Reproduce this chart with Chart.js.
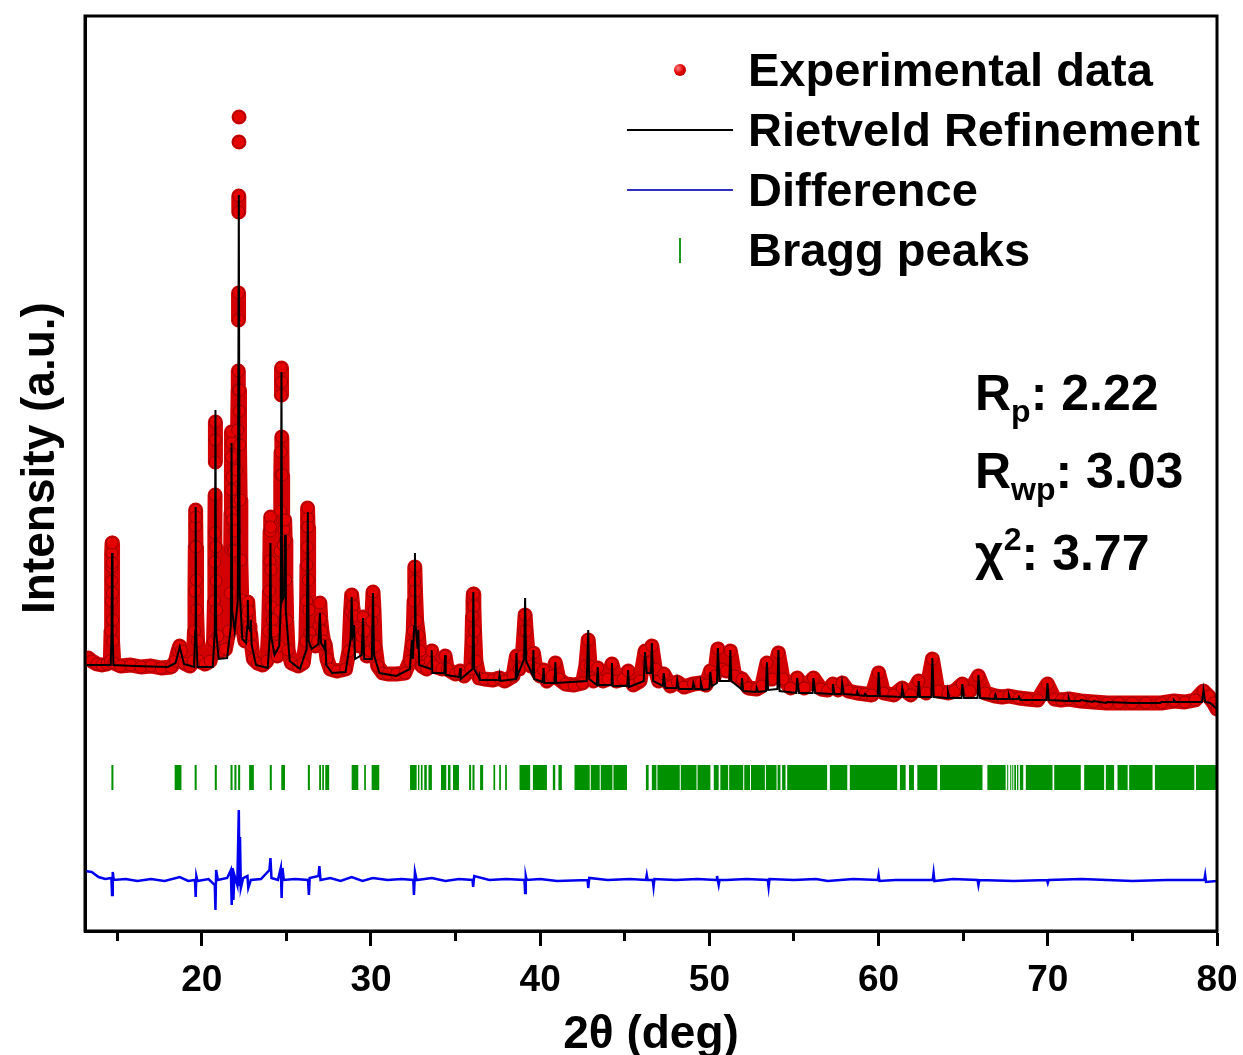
<!DOCTYPE html>
<html>
<head>
<meta charset="utf-8">
<script src="https://cdn.jsdelivr.net/npm/chart.js@4.4.1/dist/chart.umd.min.js"></script>
<style>
  html, body { margin: 0; padding: 0; background: #fff; overflow: hidden; }
  #wrap { position: relative; width: 1243px; height: 1055px; }
  #chart { position: absolute; left: 0; top: 0; }
  .txt { position: absolute; font-family: "Liberation Sans", Arial, sans-serif; font-weight: bold; color: #000; white-space: nowrap; }
  .leg { left: 748px; font-size: 47px; line-height: 60px; height: 60px; }
  .ann { left: 975px; font-size: 50px; line-height: 50px; }
  .ann sub { font-size: 32px; line-height: 0; vertical-align: -12px; }
  .ann sup { font-size: 32px; line-height: 0; vertical-align: 20px; }
  #ytitle { left: -162px; top: 430px; width: 400px; height: 56px; line-height: 56px; font-size: 46px; text-align: center; transform: rotate(-90deg); }
  .sym { position: absolute; }
</style>
</head>
<body>
<div id="wrap">
  <canvas id="chart" width="1243" height="1055"></canvas>

  <div class="txt" id="ytitle">Intensity (a.u.)</div>

  <!-- legend -->
  <div class="sym" style="left:674px; top:64px; width:12px; height:12px; border-radius:50%; background: radial-gradient(circle at 35% 35%, #ff8080 0%, #e00000 45%, #a00000 100%);"></div>
  <div class="sym" style="left:627px; top:129px; width:106px; height:2px; background:#000;"></div>
  <div class="sym" style="left:627px; top:189px; width:106px; height:2px; background:#3030c0;"></div>
  <div class="sym" style="left:679px; top:238px; width:2px; height:25px; background:#1a9a1a;"></div>
  <div class="txt leg" style="top:40px;">Experimental data</div>
  <div class="txt leg" style="top:100px;">Rietveld Refinement</div>
  <div class="txt leg" style="top:160px;">Difference</div>
  <div class="txt leg" style="top:220px;">Bragg peaks</div>

  <!-- fit statistics -->
  <div class="txt ann" style="top:368px;">R<sub>p</sub>: 2.22</div>
  <div class="txt ann" style="top:446px;">R<sub>wp</sub>: 3.03</div>
  <div class="txt ann" style="top:528px;">&chi;<sup>2</sup>: 3.77</div>
</div>

<script>
// observed pattern [2theta, intensity]; null = break between separated dots
const observed = [
  [13.1,272],[13.3,273],[13.5,270],[13.8,267],[14.1,266],[14.4,267],[14.6,270],[14.64,300],[14.66,330],[14.67,350],[14.68,364],[14.69,378],[14.70,388],[14.71,368],[14.72,338],[14.73,311],[14.75,290],[14.8,268],
  [15.2,265],[15.8,266],[16.4,264],[17.0,265],[17.6,263],[18.2,264],[18.45,270],[18.6,280],[18.7,285],[18.8,280],[18.95,268],
  [19.3,265],[19.5,270],[19.57,300],[19.6,340],[19.62,385],[19.63,405],[19.64,421],[19.65,414],[19.66,384],[19.68,351],[19.7,321],[19.75,290],[19.85,270],
  [20.2,267],[20.5,270],[20.7,290],[20.75,330],[20.77,369],[20.78,398],[20.79,436],[20.795,null],[20.8,469],[20.805,491],[20.81,509],[20.815,null],
  [20.83,384],[20.85,350],[20.88,321],[20.95,295],[21.1,280],
  [21.4,282],[21.6,300],[21.68,338],[21.71,381],[21.73,418],[21.74,441],[21.75,474],[21.76,499],[21.77,488],[21.79,454],[21.82,411],[21.86,381],[21.9,380],[21.95,400],
  [22.02,430],[22.08,461],[22.12,501],[22.15,541],[22.16,560],[22.165,null],[22.17,611],[22.175,638],[22.18,null],[22.185,719],[22.19,735],[22.195,null],
  [22.2,789],[22.203,null],[22.205,814],[22.21,null],[22.215,541],[22.22,520],[22.24,486],[22.27,431],[22.31,371],[22.36,331],[22.45,300],[22.55,290],
  [22.62,300],[22.67,315],[22.7,325],[22.72,329],[22.75,320],[22.8,305],[22.85,300],[22.9,296],[22.95,285],[23.05,272],[23.3,268],[23.6,266],[23.85,270],
  [23.95,300],[24.0,340],[24.02,370],[24.04,400],[24.06,414],[24.07,404],[24.09,361],[24.12,324],[24.17,311],[24.25,300],[24.3,285],[24.45,275],[24.55,285],
  [24.6,320],[24.64,380],[24.66,420],[24.68,456],[24.69,479],[24.695,null],[24.7,536],[24.71,563],[24.72,549],[24.725,null],[24.73,494],[24.75,456],[24.78,411],[24.82,386],[24.86,401],[24.9,411],[24.93,391],[24.97,351],[25.02,311],[25.1,281],[25.3,268],
  [25.7,265],[26.0,268],[26.15,290],[26.2,330],[26.22,366],[26.24,384],[26.25,404],[26.26,413],[26.27,423],[26.28,404],[26.3,351],[26.33,321],[26.38,298],[26.5,290],
  [26.7,285],[26.85,290],[26.92,305],[26.98,328],[27.03,312],[27.1,300],[27.2,290],[27.3,286],[27.4,272],[27.6,262],[28.0,260],[28.5,262],
  [28.7,280],[28.8,320],[28.86,336],[28.92,325],[29.0,315],[29.1,290],[29.3,285],[29.45,295],[29.53,314],[29.6,300],[29.75,275],[29.95,280],
  [30.05,310],[30.12,339],[30.18,320],[30.25,285],[30.4,265],[30.7,258],[31.0,257],[31.5,257],[32.0,258],
  [32.3,270],[32.42,286],[32.5,300],[32.55,330],[32.58,350],[32.6,364],[32.63,340],[32.7,310],[32.8,296],[32.88,280],[33.0,265],[33.3,262],
  [33.5,270],[33.59,280],[33.7,265],[34.2,262],[34.38,275],[34.5,262],[35.0,257],[35.27,260],[35.5,255],
  [35.9,262],[35.97,290],[36.0,315],[36.03,330],[36.05,337],[36.08,325],[36.12,300],[36.2,270],[36.4,253],[36.7,252],[37.2,251],[37.6,253],[37.9,250],
  [38.4,255],[38.6,275],[38.75,262],[38.95,275],[39.05,300],[39.11,316],[39.17,300],[39.3,275],[39.45,265],[39.6,278],[39.75,262],[40.0,255],[40.2,261],[40.4,250],[40.7,255],[40.9,268],[41.1,252],[41.5,247],[42.0,246],[42.5,248],
  [42.7,265],[42.84,291],[42.95,265],[43.15,250],[43.4,263],[43.7,250],[44.0,252],[44.24,267],[44.5,250],[44.9,252],[45.2,260],[45.5,246],[45.9,250],
  [46.2,280],[46.4,268],[46.6,285],[46.8,262],[47.0,250],[47.3,257],[47.7,245],[48.1,249],[48.5,244],[49.05,247],[49.5,248],[49.8,246],
  [50.06,260],[50.3,255],[50.5,282],[50.75,262],[51.0,260],[51.24,280],[51.5,255],[51.93,252],[52.3,243],[52.8,242],[53.1,245],[53.4,268],[53.7,252],[54.08,278],[54.35,252],
  [54.8,243],[55.19,253],[55.6,243],[56.15,253],[56.6,242],[57.0,241],[57.3,247],[57.6,241],[57.85,248],[58.2,240],[58.74,238],[59.2,237],[59.6,236],
  [60.0,258],[60.3,238],[60.9,236],[61.4,243],[61.9,236],[62.37,250],[62.8,238],[63.18,272],[63.5,240],[64.1,238],[64.5,240],[64.95,247],[65.4,240],[65.9,255],
  [66.3,238],[66.9,235],[67.3,234],[67.7,235],[68.3,233],[68.8,232],[69.4,231],[69.98,247],[70.4,232],[70.8,231],[71.24,232],[71.95,230],[72.7,229],[73.5,228],
  [74.2,228],[75.0,228],[75.8,228],[76.7,228],[77.45,230],[78.1,229],[78.7,231],[79.2,240],[79.5,235],[79.8,228],[80.0,222]
];

// Rietveld calculated profile [2theta, intensity]
const calculated = [
  [13.1,266],[14.0,266],[14.62,266],[14.67,300],[14.70,378],[14.73,300],[14.78,266],[16.0,265],[18.0,264],[18.45,268],[18.7,284],[18.95,267],
  [19.55,264],[19.61,300],[19.64,424],[19.67,300],[19.75,264],[20.65,264],[20.77,300],[20.81,521],[20.85,300],[21.0,272],[21.5,273],
  [21.72,305],[21.76,488],[21.80,320],[21.95,300],[22.13,330],[22.19,736],[22.24,340],[22.40,292],[22.62,288],[22.69,305],[22.72,331],[22.76,305],[22.87,300],[22.90,311],[22.95,286],
  [23.2,266],[23.9,263],[24.02,295],[24.06,388],[24.10,295],[24.3,276],[24.58,285],[24.67,325],[24.71,559],[24.75,330],[24.86,335],[24.92,396],[24.97,320],[25.2,270],
  [25.8,262],[26.2,282],[26.27,419],[26.32,290],[26.5,282],[26.9,287],[26.98,318],[27.05,288],[27.25,282],[27.30,291],[27.36,266],[27.7,258],
  [28.5,259],[28.8,292],[28.86,334],[28.92,296],[28.97,300],[29.0,306],[29.06,272],[29.45,276],[29.53,313],[29.60,272],[30.05,272],[30.12,338],[30.18,276],[30.5,258],
  [31.5,255],[32.3,262],[32.42,291],[32.47,272],[32.56,305],[32.60,378],[32.64,305],[32.76,282],[32.80,301],[32.85,266],[33.55,262],[33.59,281],[33.63,258],
  [34.34,258],[34.38,276],[34.42,256],[35.23,254],[35.27,263],[35.31,252],[36.0,262],[36.05,339],[36.10,262],[36.36,254],[36.40,256],[36.45,251],
  [37.56,251],[37.60,256],[37.65,250],[38.55,252],[38.60,278],[38.65,255],[39.05,272],[39.11,333],[39.17,270],[39.55,256],[39.60,281],[39.65,252],
  [40.15,249],[40.20,263],[40.25,248],[40.85,248],[40.90,269],[40.95,248],[42.75,250],[42.84,301],[42.90,252],[43.35,246],[43.40,264],[43.45,246],
  [44.19,246],[44.24,268],[44.30,245],[45.15,245],[45.20,261],[45.25,244],[46.12,250],[46.20,279],[46.30,258],[46.55,258],[46.60,288],[46.68,250],
  [47.25,245],[47.30,258],[47.40,243],[48.05,243],[48.10,251],[48.20,242],[49.0,242],[49.05,248],[49.15,242],[49.45,242],[49.50,248],[49.60,241],
  [50.00,242],[50.06,259],[50.15,245],[50.45,248],[50.50,283],[50.60,250],[51.18,250],[51.24,281],[51.30,250],[51.88,242],[51.93,253],[52.00,240],
  [52.75,239],[52.80,243],[52.88,239],[53.34,240],[53.40,269],[53.47,241],[54.02,242],[54.08,281],[54.15,240],[55.14,238],[55.19,253],[55.30,238],
  [56.10,238],[56.15,253],[56.25,238],[57.25,237],[57.30,247],[57.40,237],[57.80,237],[57.85,248],[57.95,237],[58.70,236],[58.74,239],[58.80,236],
  [59.15,235],[59.20,237],[59.30,235],[59.95,235],[60.00,259],[60.08,235],[61.35,234],[61.40,243],[61.50,234],[62.32,234],[62.37,250],[62.45,234],
  [63.12,234],[63.18,273],[63.26,234],[64.05,233],[64.10,239],[64.18,233],[64.90,233],[64.95,247],[65.05,233],[65.85,233],[65.90,256],[66.00,233],
  [66.85,232],[66.90,236],[66.98,232],[67.65,232],[67.70,236],[67.78,232],[68.25,232],[68.30,234],[68.38,231],[69.92,231],[69.98,248],[70.06,231],
  [71.20,230],[71.24,233],[71.30,230],[71.90,230],[71.95,231],[72.65,229],[72.70,230],[73.45,228],[73.50,229],[75.0,228],[76.65,228],[76.70,229],
  [77.40,229],[77.45,231],[77.55,229],[79.12,229],[79.20,241],[79.30,229],[79.6,228],[80.0,222]
];

// observed - calculated [2theta, difference]
const difference = [
  [13.1,9],[13.5,8],[13.9,3],[14.3,1],[14.66,2],[14.7,-15],[14.74,8],[14.8,0],[15.5,1],[16.2,-1],[17.0,1],[17.8,-1],[18.7,3],[19.2,-1],
  [19.6,0],[19.64,-17],[19.68,4],[19.75,-1],[20.4,1],[20.77,-5],[20.81,-30],[20.85,10],[20.95,0],[21.5,2],[21.72,10],[21.77,-25],[21.82,12],[21.87,-20],[21.93,5],
  [22.1,-5],[22.19,70],[22.23,-5],[22.26,43],[22.31,-8],[22.45,2],[22.7,4],[22.75,-8],[22.9,0],[23.5,1],[24.0,10],[24.06,22],[24.12,2],[24.5,0],
  [24.67,12],[24.72,-18],[24.77,12],[24.85,0],[25.5,1],[26.28,0],[26.33,-15],[26.38,2],[26.9,4],[26.95,14],[27.02,0],[27.6,2],[28.2,-1],[28.86,3],
  [29.5,-1],[30.1,2],[31.0,0],[31.8,1],[32.5,0],[32.54,-15],[32.6,8],[32.7,0],[33.6,2],[34.4,-1],[35.2,1],[36.0,0],[36.04,-7],[36.1,4],[37.0,0],[38.0,1],
  [39.07,0],[39.11,-13],[39.15,4],[39.2,0],[40.0,1],[41.0,-1],[42.8,0],[42.84,-8],[42.9,2],[44.0,0],[45.3,1],[46.25,0],[46.3,5],[46.35,0],[46.65,0],[46.7,-7],[46.75,1],
  [48.0,0],[49.3,1],[50.4,0],[50.45,4],[50.55,-5],[50.6,0],[51.0,0],[52.2,1],[53.45,0],[53.5,-7],[53.55,1],[55.0,0],[56.3,1],[57.0,-1],[58.5,1],[59.95,0],[60.0,5],[60.05,-1],[61.0,0],
  [62.0,0],[63.2,0],[63.25,7],[63.3,-1],[64.4,1],[65.85,0],[65.9,-5],[65.95,0],[68.0,-1],[69.95,0],[70.0,-3],[70.05,0],[72.0,1],[75.0,-1],[77.0,0],[79.25,0],[79.3,5],[79.35,-2],[80.0,-1]
];

// Bragg reflection positions, [from, to] in 2theta (dense groups merge into blocks)
const braggRanges = [
  [14.66,14.78],[18.40,18.80],[19.58,19.70],[20.77,20.89],[21.70,21.82],[21.93,22.05],[22.15,22.27],[22.80,23.08],[24.02,24.14],[24.70,24.92],
  [26.27,26.39],[26.94,27.05],[27.12,27.22],[27.30,27.53],[28.86,29.25],[29.60,29.70],[30.04,30.49],[32.31,32.70],[32.78,32.86],[32.95,33.05],
  [33.15,33.30],[33.40,33.60],[34.14,34.45],[34.55,34.70],[34.85,35.20],[35.80,35.92],[36.00,36.12],[36.45,36.63],[37.24,37.34],[37.58,37.68],
  [37.93,38.03],[38.78,39.41],[39.57,40.40],[40.75,40.89],[41.08,41.28],[42.03,42.93],[42.99,43.52],[43.58,44.27],[44.33,45.13],[46.25,46.41],
  [46.60,46.87],[46.93,48.25],[48.31,49.24],[49.30,50.06],[50.26,50.55],[50.65,51.11],[51.17,52.00],[52.06,52.40],[52.46,53.28],[53.34,53.97],
  [54.03,54.20],[54.30,54.50],[54.60,56.96],[57.12,58.15],[58.30,61.10],[61.26,61.60],[61.80,62.09],[62.29,63.47],[63.63,66.14],[66.43,67.51],
  [67.60,67.66],[67.78,67.84],[67.90,67.96],[68.02,68.12],[68.18,68.26],[68.35,68.55],[68.70,70.28],[70.38,71.95],[72.15,73.33],[73.43,73.92],
  [74.12,74.72],[74.81,76.19],[76.33,78.66],[78.76,80.0]
];

const diffOffset = 51;    // baseline of the difference curve
const braggLevel = 153.5; // height of the Bragg tick row

const font = "'Liberation Sans', Arial, sans-serif";
Chart.defaults.font.family = font;
Chart.defaults.color = '#000';

const braggData = [];
braggRanges.forEach(([a, b]) => {
  braggData.push({ x: a, y: braggLevel }, { x: b, y: braggLevel }, { x: b, y: null });
});

// top and right sides of the box
const framePlugin = {
  id: 'frame',
  afterDraw(chart) {
    const { ctx, chartArea: a } = chart;
    ctx.save();
    ctx.strokeStyle = '#000';
    ctx.lineWidth = 3;
    ctx.strokeRect(a.left, a.top, a.right - a.left, a.bottom - a.top);
    ctx.restore();
  }
};

new Chart(document.getElementById('chart'), {
  type: 'line',
  data: {
    datasets: [
      {
        label: 'Rietveld Refinement',
        data: calculated.map(p => ({ x: p[0], y: p[1] })),
        borderColor: '#000',
        borderWidth: 2,
        pointRadius: 0,
        order: 0
      },
      {
        label: 'Experimental data',
        data: observed.map(p => ({ x: p[0], y: p[1] })),
        borderColor: '#d20000',
        borderWidth: 15,
        borderJoinStyle: 'round',
        borderCapStyle: 'round',
        spanGaps: false,
        pointRadius: 6,
        pointBackgroundColor: '#e40000',
        pointBorderColor: '#9a0000',
        pointBorderWidth: 1,
        order: 1
      },
      {
        label: 'Difference',
        data: difference.map(p => ({ x: p[0], y: p[1] + diffOffset })),
        borderColor: '#0000ee',
        borderWidth: 2.5,
        pointRadius: 0,
        order: 2
      },
      {
        label: 'Bragg peaks',
        data: braggData,
        borderColor: '#009000',
        borderWidth: 25,
        borderCapStyle: 'butt',
        pointRadius: 0,
        spanGaps: false,
        order: 3
      }
    ]
  },
  options: {
    responsive: false,
    animation: false,
    devicePixelRatio: 1,
    layout: { padding: { top: 16, right: 26, left: 0, bottom: 0 } },
    elements: { line: { tension: 0 } },
    plugins: { legend: { display: false }, tooltip: { enabled: false } },
    scales: {
      x: {
        type: 'linear',
        min: 13.1,
        max: 80,
        border: { display: true, width: 3, color: '#000' },
        grid: {
          drawOnChartArea: false,
          drawTicks: true,
          tickLength: 15,
          tickWidth: 3,
          tickColor: '#000',
          tickBorderDash: ctx => (ctx.tick && ctx.tick.value % 10 !== 0) ? [8, 100] : []
        },
        ticks: {
          stepSize: 5,
          includeBounds: false,
          autoSkip: false,
          maxRotation: 0,
          padding: 13,
          font: { size: 37, weight: 'bold' },
          callback: v => (v % 10 === 0 ? v : '')
        },
        title: {
          display: true,
          text: '2\u03B8 (deg)',
          font: { size: 46, weight: 'bold', lineHeight: 0.87 },
          padding: { top: 0, bottom: 0 }
        },
        afterFit: s => { s.height = 124; s.paddingLeft = 0; s.paddingRight = 0; }
      },
      y: {
        min: 0,
        max: 915,
        border: { display: true, width: 3, color: '#000' },
        grid: { display: false, drawTicks: false },
        ticks: { display: false },
        afterFit: s => { s.width = 85; }
      }
    }
  },
  plugins: [framePlugin]
});
</script>
</body>
</html>
